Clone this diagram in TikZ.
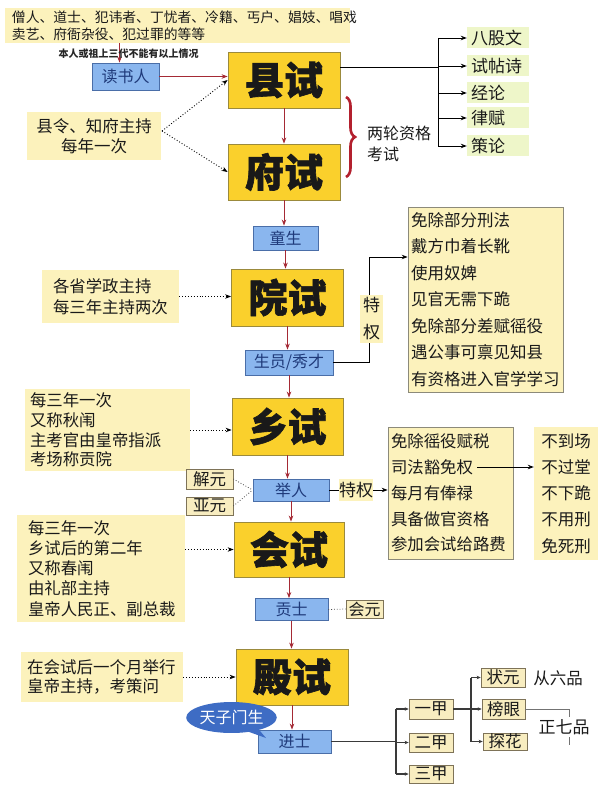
\documentclass[tikz,border=0pt]{standalone}
\usepackage{fontspec}
\setmainfont{Noto Sans CJK SC}
\newfontfamily\titlefont[BoldFeatures={FakeBold=1.6}]{Noto Sans CJK SC}
\usetikzlibrary{arrows.meta,decorations.pathreplacing,shapes.callouts,calc}
\definecolor{gold}{HTML}{FAD02C}
\definecolor{mainborder}{HTML}{9B8A3C}
\definecolor{bluefill}{HTML}{8AB6EE}
\definecolor{blueborder}{HTML}{4A6EA8}
\definecolor{bluetext}{HTML}{1F3A7A}
\definecolor{noteyellow}{HTML}{FCF2BC}
\definecolor{privborder}{HTML}{8C8A7A}
\definecolor{greenfill}{HTML}{EEF6C9}
\definecolor{tagfill}{HTML}{F8EDC0}
\definecolor{tagborder}{HTML}{7E7358}
\definecolor{darkred}{HTML}{A52A35}
\definecolor{braceRed}{HTML}{B3202E}
\definecolor{callblue}{HTML}{3E6CC4}
\definecolor{textdark}{HTML}{1A1A1A}
\definecolor{linegray}{HTML}{3A3A3A}
\begin{document}
\begin{tikzpicture}[x=1pt,y=-1pt,
  mainbox/.style={draw=mainborder,fill=gold,line width=0.8pt,minimum width=112pt,minimum height=56pt,inner sep=0pt,font=\fontsize{39}{40}\selectfont\titlefont\bfseries,text=black!90},
  bluebox/.style={draw=blueborder,fill=bluefill,text=bluetext,line width=0.8pt,inner sep=0pt,font=\fontsize{16}{18}\selectfont},
  notebox/.style={fill=noteyellow,inner ysep=0pt,text=textdark},
  privbox/.style={fill=noteyellow,draw=privborder,line width=0.7pt,inner ysep=0pt,align=left,text=textdark},
  greenbox/.style={fill=greenfill,inner ysep=0pt,inner xsep=4pt,text width=54pt,align=left,minimum height=21pt,font=\fontsize{17}{18}\selectfont,text=textdark},
  tagbox/.style={fill=tagfill,draw=tagborder,line width=0.7pt,inner sep=0pt,font=\fontsize{16.5}{18}\selectfont,text=textdark},
  redarrow/.style={draw=darkred,line width=1pt,-{Stealth[length=6pt,width=4.5pt]}},
  dotarrow/.style={draw=black,line width=0.9pt,dotted,-{Stealth[length=6pt,width=4.5pt]}},
  dotline/.style={draw=black!70,line width=0.8pt,dotted},
  blackarrow/.style={draw=black,line width=0.9pt,-{Stealth[length=6pt,width=4.5pt]}},
  treeline/.style={draw=linegray,line width=1.1pt},
  treearrow/.style={draw=linegray,line width=1.1pt,-{Stealth[length=4pt,width=3.5pt]}}
]
\useasboundingbox[fill=white] (0,0) rectangle (600,799);

% ---------- top ----------
\node[notebox,inner xsep=7pt,text width=331pt,minimum height=35pt,align=left,font=\fontsize{13.8}{17}\selectfont] (top) at (177.5,25.5)
  {僧人、道士、犯讳者、丁忧者、冷籍、丐户、娼妓、唱戏\\卖艺、府衙杂役、犯过罪的等等};
\node[bluebox,minimum width=67pt,minimum height=27pt] (dushu) at (125.5,76.5) {读书人};
\draw[redarrow] ([xshift=-6pt]dushu.north |- top.south) -- ([xshift=-6pt]dushu.north);
\node[font=\fontsize{10}{12}\selectfont\bfseries,text=black!85,inner sep=0pt] (rule) at (128.5,54) {本人或祖上三代不能有以上情况};

\node[mainbox] (xianshi) at (284,80) {县试};
\node[mainbox] (fushi) at (284,172) {府试};
\draw[redarrow] (dushu.east) -- (dushu.east -| xianshi.west);
\draw[redarrow] (xianshi.south) -- (fushi.north);

\node[notebox,inner xsep=0pt,minimum width=134pt,minimum height=48pt,align=center,font=\fontsize{16.5}{20}\selectfont] (xl) at (94,136) {县令、知府主持\\每年一次};
\coordinate (xlout) at (162,131);
\draw[dotarrow] (xlout) -- (xianshi.west);
\draw[dotarrow] (xlout) -- (fushi.west);

% brace and two-round text
\coordinate (braceTop) at (346,97);
\coordinate (braceBot) at (346,177);
\draw[draw=braceRed,line width=2.6pt,decorate,decoration={brace,amplitude=9pt}] (braceTop) -- (braceBot);
\node[anchor=west,align=left,inner sep=0pt,font=\fontsize{16}{21}\selectfont,text=textdark] (lianglun) at (367,143.5) {两轮资格\\考试};

% subjects
\node[greenbox] (g1) at (498,38) {八股文};
\node[greenbox] (g2) at (498,66) {试帖诗};
\node[greenbox] (g3) at (498,93) {经论};
\node[greenbox] (g4) at (498,118) {律赋};
\node[greenbox] (g5) at (498,146) {策论};
\coordinate (br) at (438,67);
\draw[draw=black,line width=0.9pt] ([yshift=13pt]xianshi.east) -- (br);
\draw[draw=black,line width=0.9pt] (g1.west -| br) -- (g5.west -| br);
\foreach \g in {g1,g2,g3,g4,g5}{\draw[blackarrow] (\g.west -| br) -- (\g.west);}

% ---------- 童生 / 院试 ----------
\node[bluebox,minimum width=65pt,minimum height=24pt] (tongsheng) at (285.5,238) {童生};
\node[mainbox,minimum height=57pt] (yuanshi) at (287.5,297.5) {院试};
\draw[redarrow] (fushi.south) -- (fushi.south |- tongsheng.north);
\draw[redarrow] (tongsheng.south) -- (tongsheng.south |- yuanshi.north);
\node[notebox,inner xsep=11pt,text width=115pt,minimum height=53pt,align=left,font=\fontsize{16.4}{21}\selectfont] (gs) at (110.5,296.5) {各省学政主持\\每三年主持两次};
\draw[dotarrow] (gs.east) -- (gs.east -| yuanshi.west);

\node[bluebox,minimum width=88pt,minimum height=25pt] (shengyuan) at (289,362.5) {生员/秀才};
\draw[redarrow] (yuanshi.south) -- (yuanshi.south |- shengyuan.north);

\node[privbox,inner xsep=3pt,text width=149pt,minimum height=185pt,font=\fontsize{16.5}{26.5}\selectfont] (pv1) at (485.5,299.5)
  {免除部分刑法\\戴方巾着长靴\\使用奴婢\\见官无需下跪\\免除部分差赋徭役\\遇公事可禀见知县\\有资格进入官学学习};
\coordinate (c1) at (369,257);
\draw[blackarrow] (shengyuan.east) -| (c1) -- (c1 -| pv1.west);
\node[notebox,inner xsep=0pt,minimum width=23pt,minimum height=48pt,align=center,font=\fontsize{17}{27}\selectfont] (tq1) at (371.5,319) {特\\权};

% ---------- 乡试 ----------
\node[mainbox,minimum width=111pt,minimum height=57pt] (xiangshi) at (287.5,426.5) {乡试};
\draw[redarrow] (shengyuan.south) -- (shengyuan.south |- xiangshi.north);
\node[notebox,inner xsep=5pt,text width=155pt,minimum height=82pt,align=left,font=\fontsize{16.4}{19.7}\selectfont] (xs) at (107.5,430)
  {每三年一次\\又称秋闱\\主考官由皇帝指派\\考场称贡院};
\draw[dotarrow] (xs.east) -- (xs.east -| xiangshi.west);

\node[bluebox,minimum width=76pt,minimum height=22pt] (juren) at (291,490) {举人};
\draw[redarrow] (xiangshi.south) -- (xiangshi.south |- juren.north);
\node[tagbox,minimum width=47pt,minimum height=20pt] (jy) at (209.5,479) {解元};
\node[tagbox,minimum width=47pt,minimum height=18pt] (ya) at (209.5,506) {亚元};
\draw[dotline] (jy.east) -- (juren.west);
\draw[dotline] (ya.east) -- (juren.west);

\node[privbox,inner xsep=3pt,text width=119pt,minimum height=132pt,font=\fontsize{16.4}{25.75}\selectfont] (pv2) at (450.5,493)
  {免除徭役赋税\\司法豁免权\\每月有俸禄\\具备做官资格\\参加会试给路费};
\node[notebox,inner xsep=0pt,minimum width=33pt,minimum height=22pt,font=\fontsize{17}{18}\selectfont] (tq2) at (356,490) {特权};
\draw[draw=black,line width=0.9pt] (juren.east) -- (tq2.west);
\draw[blackarrow] (tq2.east) -- (tq2.east -| pv2.west);
\node[notebox,inner xsep=0pt,minimum width=64pt,minimum height=133pt,align=center,font=\fontsize{16.5}{26.25}\selectfont] (pv3) at (566,493.5)
  {不到场\\不过堂\\不下跪\\不用刑\\免死刑};
\coordinate (sf) at (477,467);
\draw[blackarrow] (sf) -- (sf -| pv3.west);

% ---------- 会试 ----------
\node[mainbox,minimum width=110pt,minimum height=55pt] (huishi) at (289,549.5) {会试};
\draw[redarrow] (juren.south) -- (juren.south |- huishi.north);
\node[notebox,inner xsep=11pt,text width=146pt,minimum height=107pt,align=left,font=\fontsize{16.4}{20.25}\selectfont] (hs) at (101,568.5)
  {每三年一次\\乡试后的第二年\\又称春闱\\由礼部主持\\皇帝人民正、副总裁};
\draw[dotarrow] (huishi.west -| hs.east) -- (huishi.west);

\node[bluebox,minimum width=73pt,minimum height=22pt] (gongshi) at (291.5,609.5) {贡士};
\draw[redarrow] (huishi.south) -- (huishi.south |- gongshi.north);
\node[tagbox,minimum width=37pt,minimum height=18pt,font=\fontsize{16}{18}\selectfont] (hy) at (364.5,609) {会元};
\draw[dotline] (gongshi.east) -- (hy.west);

% ---------- 殿试 ----------
\node[mainbox] (dianshi) at (292,677) {殿试};
\draw[redarrow] (gongshi.south) -- (gongshi.south |- dianshi.north);
\node[notebox,inner xsep=6pt,text width=150pt,minimum height=50pt,align=left,font=\fontsize{16.5}{19.5}\selectfont] (ds) at (102,677)
  {在会试后一个月举行\\皇帝主持，考策问};
\draw[dotarrow] (ds.east) -- (dianshi.west);

\node[bluebox,minimum width=73pt,minimum height=23pt] (jinshi) at (294.5,741.5) {进士};
\draw[redarrow] (dianshi.south) -- (dianshi.south |- jinshi.north);
\coordinate (tail) at (266,738);
\node[ellipse callout,callout absolute pointer={(tail)},fill=callblue,text=white,inner sep=0pt,minimum width=79pt,minimum height=31pt,font=\fontsize{16}{18}\selectfont] (tz) at (231.5,717.5) {天子门生};

% ---------- ranks ----------
\node[tagbox,minimum width=44pt,minimum height=20pt] (yj) at (431,709) {一甲};
\node[tagbox,minimum width=44pt,minimum height=19pt] (ej) at (431,742.5) {二甲};
\node[tagbox,minimum width=44pt,minimum height=18pt] (sj) at (431,774) {三甲};
\coordinate (t1) at (396,741.5);
\draw[treeline,line width=1.5pt] (jinshi.east) -- (t1);
\draw[treeline] (yj.west -| t1) -- (sj.west -| t1);
\foreach \r in {yj,ej,sj}{\draw[treearrow] (\r.west -| t1) -- (\r.west);}

\node[tagbox,minimum width=44pt,minimum height=19pt] (zy) at (503,677.5) {状元};
\node[tagbox,minimum width=43pt,minimum height=20pt] (by) at (503.5,709) {榜眼};
\node[tagbox,minimum width=44pt,minimum height=17pt] (th) at (505,741.5) {探花};
\coordinate (t2) at (471,709);
\draw[treeline,line width=1.5pt] (yj.east) -- (t2);
\draw[treeline] (zy.west -| t2) -- (th.west -| t2);
\foreach \r in {zy,by,th}{\draw[treearrow] (\r.west -| t2) -- (\r.west);}

\node[inner sep=0pt,font=\fontsize{16.5}{18}\selectfont,text=textdark] (c6) at (558,678) {从六品};
\coordinate (t3) at (569,745);
\draw[draw=black!55,line width=0.8pt] (by.east) -| (t3);
\node[fill=white,inner xsep=1pt,inner ysep=2pt,font=\fontsize{17}{18}\selectfont,text=textdark] (z7) at (564,727) {正七品};
\end{tikzpicture}
\end{document}
